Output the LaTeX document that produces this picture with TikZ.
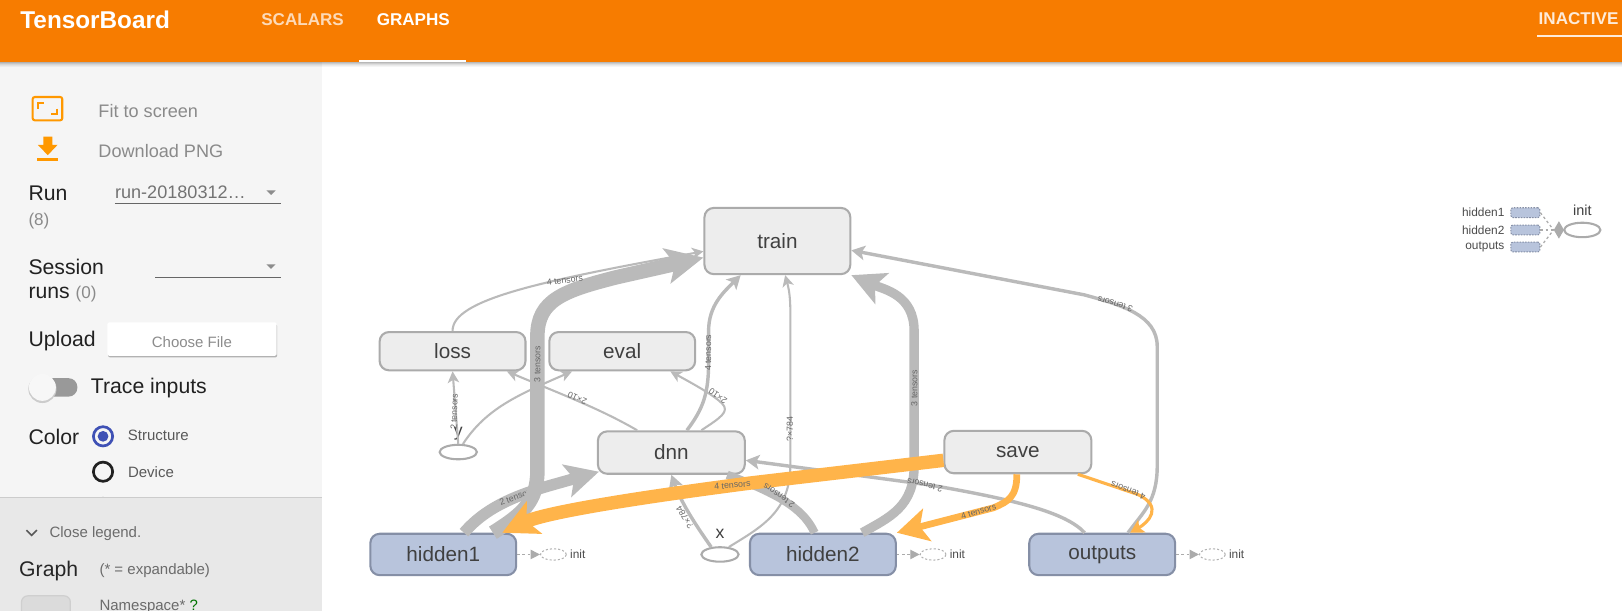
\documentclass[tikz,border=0pt]{standalone}
\usepackage{fontspec}
\setmainfont{Liberation Sans}
\usetikzlibrary{arrows.meta,shapes.geometric,calc}
\definecolor{tborange}{HTML}{F77C00}
\definecolor{edgegrey}{HTML}{BABABA}
\definecolor{edgeorange}{HTML}{FFB44A}
\definecolor{nodeborder}{HTML}{ABABAB}
\definecolor{metaborder}{HTML}{858FA6}
\definecolor{metafill}{HTML}{B8C4DC}
\definecolor{sidegrey}{HTML}{8A8A8A}
\definecolor{icono}{HTML}{FF9800}
\definecolor{inkdark}{HTML}{212121}
\definecolor{radioblue}{HTML}{3F51B5}
\newcommand{\fs}[1]{\fontsize{#1}{#1}\selectfont}
\tikzset{
  x=1pt,y=-1pt,
  opnode/.style={draw=nodeborder,fill=black!7,line width=2pt,rounded corners=9pt,inner sep=0pt,text=black!75,font=\fs{20}},
  metanode/.style={opnode,draw=metaborder,fill=metafill},
  oval/.style={draw=nodeborder,ellipse,fill=white,line width=2pt,minimum width=36pt,minimum height=14pt,inner sep=0pt},
  ovaltext/.style={text=black!75,font=\fs{17},inner sep=0pt},
  thin edge/.style={draw=edgegrey,line width=2pt,-{Stealth[length=11pt,width=11pt,inset=3pt]}},
  mid edge/.style={draw=edgegrey,line width=3.3pt,-{Stealth[length=13pt,width=14pt,inset=3pt]}},
  fat edge/.style={draw=edgegrey,line width=9pt,-{Stealth[length=32pt,width=32pt,inset=7pt]}},
  huge edge/.style={draw=edgegrey,line width=14pt,-{Stealth[length=36pt,width=34pt,inset=8pt]}},
  warm thin/.style={draw=edgeorange,line width=3pt,-{Stealth[length=13pt,width=14pt,inset=3pt]}},
  warm mid/.style={draw=edgeorange,line width=6.5pt,-{Stealth[length=30pt,width=32pt,inset=7pt]}},
  warm huge/.style={draw=edgeorange,line width=13pt,-{Stealth[length=34pt,width=34pt,inset=8pt]}},
  elabel/.style={font=\fs{8.5},text=black!60,inner sep=0pt},
  dotedge/.style={draw=nodeborder,line width=1.2pt,dash pattern=on 2.5pt off 2.5pt},
  dotoval/.style={draw=black!30,ellipse,line width=1pt,dash pattern=on 2pt off 2pt,minimum width=25pt,minimum height=11pt,inner sep=0pt},
  smalltext/.style={font=\fs{11.5},text=black!70,inner sep=0pt},
  minibox/.style={draw=metaborder,fill=metafill,line width=1pt,dash pattern=on 1.5pt off 1.2pt,rounded corners=2pt,minimum width=28pt,minimum height=9.5pt,inner sep=0pt},
  side/.style={anchor=west,inner sep=0pt,font=\fs{20.5},text=inkdark},
  sidesmall/.style={anchor=west,inner sep=0pt,font=\fs{17.5},text=sidegrey},
  legendtext/.style={anchor=west,inner sep=0pt,font=\fs{14.5},text=black!58},
  tab/.style={inner sep=0pt,font=\bfseries\fs{16.5}},
}
\begin{document}
\begin{tikzpicture}
\useasboundingbox (0,0) rectangle (1568,590.66);
\clip (0,0) rectangle (1568,590.66);
\fill[white] (0,0) rectangle (1568,590.66);

% sidebar
\fill[black!4] (0,60) rectangle (311,590.66);

% header
\foreach \i/\o in {0/0.28,1/0.2,2/0.13,3/0.08,4/0.04}{\fill[black,opacity=\o] (0,60+\i) rectangle (1568,61+\i);}
\fill[tborange] (0,0) rectangle (1568,60);
\node[inner sep=0pt,font=\bfseries\fs{23.5},text=white] (brand) at (92,19) {TensorBoard};
\node[tab,text=white!72!tborange] (scalars) at (292.5,18.7) {SCALARS};
\node[tab,text=white] (graphs) at (399.5,18.7) {GRAPHS};
\fill[white] (347.4,58) rectangle (450.5,60);
\node[tab,text=white!85!tborange] (inactive) at (1526,17.7) {INACTIVE};
\fill[white!85!tborange] (1486,33.5) rectangle (1568,35.5);

% sidebar controls
\draw[icono,line width=2pt,rounded corners=2pt] (31.6,93.8) rectangle (60.2,116.3);
\draw[icono,line width=2pt] (37,105) -- (37,100) -- (43,100);
\draw[icono,line width=2pt] (55,105) -- (55,110.5) -- (49,110.5);
\fill[icono] (41.9,132) -- (50.6,132) -- (50.6,140) -- (55.7,140) -- (46.2,150) -- (36.5,140) -- (41.9,140) -- cycle;
\fill[icono] (36,153) rectangle (55.8,155.6);
\node[sidesmall] (fit) at (95,107) {Fit to screen};
\node[sidesmall] (dl) at (95,146) {Download PNG};
\node[side] (run) at (27.4,187) {Run};
\node[sidesmall,font=\fs{16.5}] (runcount) at (27.4,213.6) {(8)};
\node[sidesmall,text=black!55] (runval) at (111,186) {run-20180312…};
\draw[black!60,line width=0.8pt] (111,197) -- (271.6,197);
\fill[black!45] (257.5,184) -- (266.5,184) -- (262,188.5) -- cycle;
\node[side] (sess) at (27.4,258) {Session};
\node[side] (runs) at (27.4,284) {runs \textcolor{sidegrey}{\fs{16.5}(0)}};
\draw[black!60,line width=0.8pt] (150,267.7) -- (271.6,267.7);
\fill[black!45] (257.5,255.5) -- (266.5,255.5) -- (262,260) -- cycle;
\node[side] (upload) at (27.4,329.5) {Upload};
\fill[black!30,rounded corners=2pt] (104.5,313.5) rectangle (268,345.5);
\fill[white,rounded corners=2pt] (103.8,311.6) rectangle (267.5,344);
\node[inner sep=0pt,font=\fs{14.5},text=black!45] (choose) at (185.5,331) {Choose File};
\fill[black!40,rounded corners=8.5pt] (38.7,365.6) rectangle (74.8,383.4);
\fill[black!20] (41,376) circle (13.6);
\fill[black!3] (41,374.5) circle (13);
\node[side] (trace) at (87.7,375.5) {Trace inputs};
\node[side] (color) at (27.4,422) {Color};
\draw[radioblue,line width=2.6pt] (99.6,421.8) circle (9.3);
\fill[radioblue] (99.6,421.8) circle (5.2);
\node[legendtext,text=black!65] (structure) at (123.4,421) {Structure};
\draw[inkdark,line width=2.6pt] (99.6,456) circle (9.3);
\node[legendtext,text=black!65] (device) at (123.6,456) {Device};
\draw[inkdark,line width=2.6pt] (99.6,491) circle (9.3);

% legend
\fill[black!9] (0,481) rectangle (311,590.66);
\draw[black!20,line width=0.8pt] (0,481) -- (311,481);
\draw[black!65,line width=1.5pt] (25.5,512.5) -- (30.6,517.5) -- (35.7,512.5);
\node[legendtext] (close) at (47.7,515.5) {Close legend.};
\node[side,text=black!85] (graphlbl) at (18.4,552) {Graph};
\node[legendtext] (expand) at (96,551.6) {(* = expandable)};
\draw[black!19,fill=black!14,line width=1.2pt,rounded corners=6pt] (20.8,576) rectangle (68,600);
\node[legendtext] (nsp) at (96,587) {Namespace* \textcolor{green!45!black}{?}};

% nodes
\node[opnode,minimum width=141pt,minimum height=64pt] (train) at (751.5,233) {train};
\node[opnode,minimum width=141pt,minimum height=37pt] (loss) at (437.5,339.5) {loss};
\node[opnode,minimum width=141pt,minimum height=37pt] (eval) at (601.5,339.5) {eval};
\node[opnode,minimum width=142pt,minimum height=41pt] (dnn) at (649,437.5) {dnn};
\node[opnode,minimum width=142pt,minimum height=41pt] (save) at (984,437) {save};
\node[metanode,minimum width=141pt,minimum height=40pt] (hidden1) at (428.5,536) {hidden1};
\node[metanode,minimum width=141pt,minimum height=40pt] (hidden2) at (795.5,536) {hidden2};
\node[metanode,minimum width=141pt,minimum height=40pt] (outputs) at (1065.5,536) {outputs};
\node[oval] (y) at (443,437) {};
\node[ovaltext] (ylbl) at (443,419) {y};
\node[oval] (xop) at (696,536) {};
\node[ovaltext] (xlbl) at (696,516) {x};

% grey edges
\draw[thin edge] (y.60) .. controls (470,395) and (500,382) .. (eval.south -| 553,0);
\draw[thin edge] (dnn.north -| 616,0) .. controls (580,395) and (540,380) .. (loss.south -| 490,0);
\draw[thin edge] (y.north) -- (loss.south);
\draw[thin edge] (loss.north) .. controls (437,290) and (520,272) .. ([yshift=-10pt]train.west);
\draw[thin edge] ([xshift=29pt]dnn.north) .. controls (696,404) and (706,398) .. (698,390) .. controls (690,382) and (670,371) .. (eval.south -| 648,0);
\draw[mid edge] ([xshift=15pt]dnn.north) .. controls (680,395) and (685,380) .. (685,350) -- (685,320) .. controls (685,295) and (700,282) .. (train.south -| 716,0);
\draw[mid edge] (xop.140) .. controls (678,515) and (660,490) .. (dnn.south);
\draw[thin edge] (xop.40) .. controls (735,510) and (764,495) .. (764,450) -- (764,300) .. controls (764,285) and (762,277) .. (train.south -| 759,0);
\draw[draw=edgegrey,line width=8pt] ([xshift=-8pt]hidden2.north) .. controls (778,495) and (760,480) .. (dnn.south -| 703,0);
\draw[mid edge] ([xshift=-17pt]outputs.north) .. controls (1030,495) and (980,483) .. (900,469) -- (dnn.east |- 0,445);
\draw[fat edge] ([xshift=38pt]hidden2.north) .. controls (860,500) and (883.7,490) .. (883.7,450) -- (883.7,320) .. controls (883.7,285) and (855,280) .. (train.south east);
\draw[mid edge] ([xshift=25pt]outputs.north) .. controls (1105,495) and (1118.7,485) .. (1118.7,450) -- (1118.7,335) .. controls (1118.7,305) and (1085,295) .. (1048,285) -- (train.east |- 0,242);
\draw[fat edge,line width=11pt] ([xshift=20pt]hidden1.north) .. controls (470,490) and (500,478) .. (540,467) -- ([xshift=2pt]dnn.west |- 0,456);
\node[elabel,rotate=20] (l1) at (499.5,480) {2 tensors};
\draw[huge edge] ([xshift=48pt]hidden1.north) .. controls (505,497) and (519.5,485) .. (519.5,455) -- (519.5,325) .. controls (519.5,290) and (545,281) .. (596,268) -- ([yshift=-16pt]train.west);

% warm edges
\draw[warm huge] ([yshift=-8pt]save.west) -- (725,467) .. controls (640,478) and (530,494) .. ([xshift=57pt]hidden1.north);
\draw[warm mid] ([xshift=-1pt]save.south) .. controls (983,480) and (975,485) .. (960,491) -- (hidden2.north east);
\draw[warm thin] ([xshift=58pt]save.south) -- (1100,478) .. controls (1125,490) and (1110,505) .. ([xshift=27pt]outputs.north);

% edge labels
\node[elabel,rotate=8] (l2) at (546,271) {4 tensors};
\node[elabel,rotate=90] (l3) at (519.5,352) {3 tensors};
\node[elabel,rotate=88] (l4) at (439,398) {2 tensors};
\node[elabel,rotate=156] (l5) at (558,385) {2×10};
\node[elabel,rotate=145] (l6) at (694,383) {2×10};
\node[elabel,rotate=90] (l7) at (684.6,341) {4 tensors};
\node[elabel,rotate=90] (l8) at (763.5,415) {?×784};
\node[elabel,rotate=122] (l9) at (662,500) {?×784};
\node[elabel,rotate=90] (l10) at (884,375) {3 tensors};
\node[elabel,rotate=163] (l11) at (1078,294) {3 tensors};
\node[elabel,rotate=167] (l12) at (894,469) {2 tensors};
\node[elabel,rotate=145] (l13) at (753,479) {2 tensors};
\node[elabel,rotate=5] (l14) at (708,469) {4 tensors};
\node[elabel,rotate=17] (l15) at (946,494.5) {4 tensors};
\node[elabel,rotate=159] (l16) at (1090.6,474) {4 tensors};

% init stubs
\node[dotoval] (i1) at (535,536) {};
\node[smalltext] (t1) at (558.5,536) {init};
\draw[dotedge,-{Triangle[length=9pt,width=9pt]}] (hidden1.east) -- (i1.west);
\node[dotoval] (i2) at (902,536) {};
\node[smalltext] (t2) at (925.5,536) {init};
\draw[dotedge,-{Triangle[length=9pt,width=9pt]}] (hidden2.east) -- (i2.west);
\node[dotoval] (i3) at (1172,536) {};
\node[smalltext] (t3) at (1195.5,536) {init};
\draw[dotedge,-{Triangle[length=9pt,width=9pt]}] (outputs.east) -- (i3.west);

% auxiliary init
\node[oval,minimum width=35pt,minimum height=14pt] (auxinit) at (1529.6,222.3) {};
\node[font=\fs{14},text=black!75,inner sep=0pt] (auxlbl) at (1529.6,203) {init};
\node[diamond,fill=nodeborder,minimum width=10pt,minimum height=17pt,inner sep=0pt] (auxd) at (1507,222.3) {};
\node[minibox] (b1) at (1474.6,205.6) {};
\node[minibox] (b2) at (1474.6,222.3) {};
\node[minibox] (b3) at (1474.6,238.8) {};
\node[smalltext,anchor=east] (n1) at (1454.5,205.6) {hidden1};
\node[smalltext,anchor=east] (n2) at (1454.5,222.3) {hidden2};
\node[smalltext,anchor=east] (n3) at (1454.5,238.8) {outputs};
\draw[dotedge] (b1.east) -- (auxd.west);
\draw[dotedge] (b2.east) -- (auxd.west);
\draw[dotedge] (b3.east) -- (auxd.west);
\end{tikzpicture}
\end{document}
